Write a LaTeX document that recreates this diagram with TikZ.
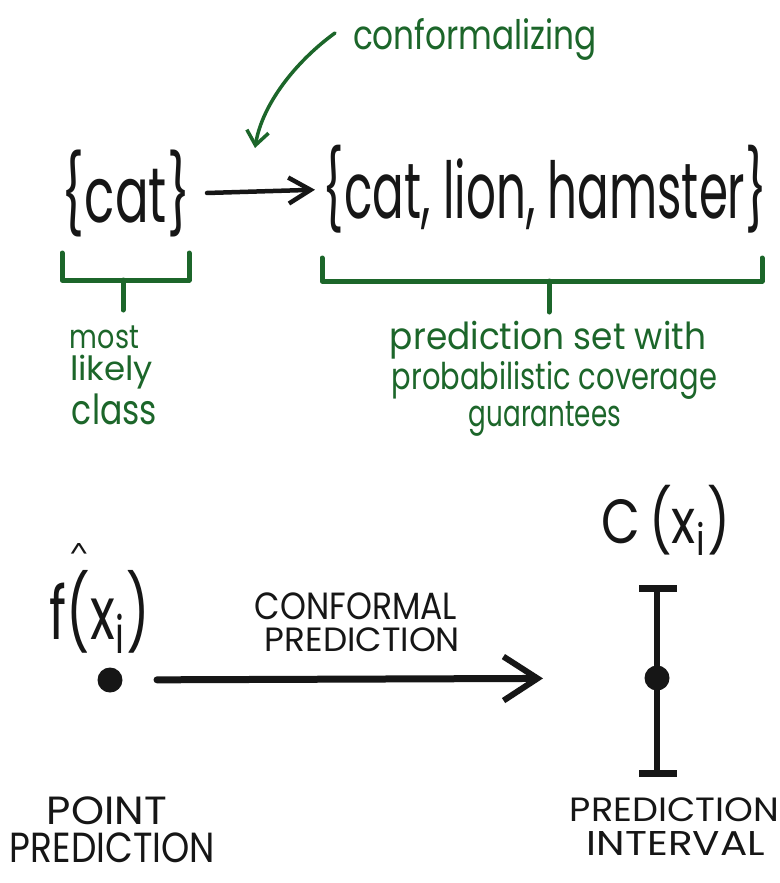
\documentclass[tikz,border=0pt]{standalone}
\usepackage{fontspec}
\setmainfont{Poppins}
\usepackage{graphicx}
\usetikzlibrary{arrows.meta}
\definecolor{hgreen}{RGB}{28,102,42}
\definecolor{ink}{RGB}{22,22,22}
\newcommand{\fitbox}[3]{\resizebox*{#1pt}{#2pt}{#3}}
\tikzset{
  lbl/.style={inner sep=0pt, outer sep=0pt, anchor=center},
  gtext/.style={lbl, text=hgreen},
  btext/.style={lbl, text=ink},
  gline/.style={draw=hgreen, line width=5pt, line cap=round, line join=round},
  dotnode/.style={circle, fill=ink, minimum size=25pt, inner sep=0pt}
}
\begin{document}
\begin{tikzpicture}[x=1pt,y=-1pt]
\useasboundingbox[fill=white] (0,0) rectangle (779,883);

% top part
\node[gtext] (conf) at (475,39) {\fitbox{244}{42}{conformalizing}};
\node[btext] (cat) at (126,193.5) {\fitbox{128}{87}{\{cat\}}};
\node[btext] (set) at (545,189.5) {\fitbox{444}{88}{\{cat, lion, hamster\}}};

\coordinate (gstart) at (335,33);
\coordinate (gtip) at (255,148);
\draw[draw=hgreen, line width=3.5pt, line cap=round,
      -{Straight Barb[length=14pt,width=22pt,line width=3.5pt]}]
  (gstart) .. controls (295,62) and (262,105) .. (gtip);

\draw[draw=ink, line width=4.5pt, line cap=round, shorten <=17pt, shorten >=8pt,
      -{Straight Barb[length=22pt,width=26pt,line width=4.5pt]}]
  (cat.east) -- (set.west);

% brackets
\coordinate (lb1) at (62,253);
\coordinate (lb2) at (189,253);
\coordinate (lstem) at (123,280);
\draw[gline] (lb1) -- (62,280) -- (189,280) -- (lb2);
\draw[gline] (lstem) -- (123,310);
\coordinate (rb1) at (322,258);
\coordinate (rb2) at (762,258);
\coordinate (rstem) at (549,281);
\draw[gline] (rb1) -- (322,281) -- (762,281) -- (rb2);
\draw[gline] (rstem) -- (549,312);

% green labels
\node[gtext] (most) at (104.5,337) {\fitbox{69}{23}{most}};
\node[gtext] (likely) at (111.5,372) {\fitbox{83}{34}{likely}};
\node[gtext] (class) at (114.5,409.5) {\fitbox{85}{31}{class}};
\node[gtext] (ps1) at (548,340) {\fitbox{316}{38}{prediction set with}};
\node[gtext] (ps2) at (554.5,380) {\fitbox{325}{38}{probabilistic coverage}};
\node[gtext] (ps3) at (545,419) {\fitbox{152}{35}{guarantees}};

% bottom part
\node[btext] (hat) at (79,550) {\fitbox{18}{14}{\textasciicircum}};
\node[btext] (fx) at (100,611.5) {\fitbox{100}{83}{f(x\textsubscript{i})}};
\node[btext] (cx) at (666,520) {\fitbox{128}{70}{C\,(x\textsubscript{i})}};
\node[btext] (cp1) at (356,606.5) {\fitbox{202}{27}{CONFORMAL}};
\node[btext] (cp2) at (362.5,640) {\fitbox{195}{24}{PREDICTION}};

\node[dotnode] (ptdot) at (110,680) {};
\node[dotnode] (intdot) at (657,678) {};

\draw[draw=ink, line width=7pt, line cap=round, shorten <=47pt, shorten >=114pt,
      -{Straight Barb[length=34pt,width=44pt,line width=6pt]}]
  (ptdot.center) -- (intdot.center);

\coordinate (itop) at (657,588);
\coordinate (ibot) at (657,773);
\draw[draw=ink, line width=6pt] (itop) -- (ibot);
\draw[draw=ink, line width=7pt] (639,588) -- (677,588);
\draw[draw=ink, line width=7pt] (639,773) -- (677,773);

\node[btext] (pp1) at (107,811) {\fitbox{120}{28}{POINT}};
\node[btext] (pp2) at (112.5,848) {\fitbox{205}{30}{PREDICTION}};
\node[btext] (pi1) at (674.5,810) {\fitbox{209}{24}{PREDICTION}};
\node[btext] (pi2) at (676,843) {\fitbox{178}{24}{INTERVAL}};
\end{tikzpicture}
\end{document}
